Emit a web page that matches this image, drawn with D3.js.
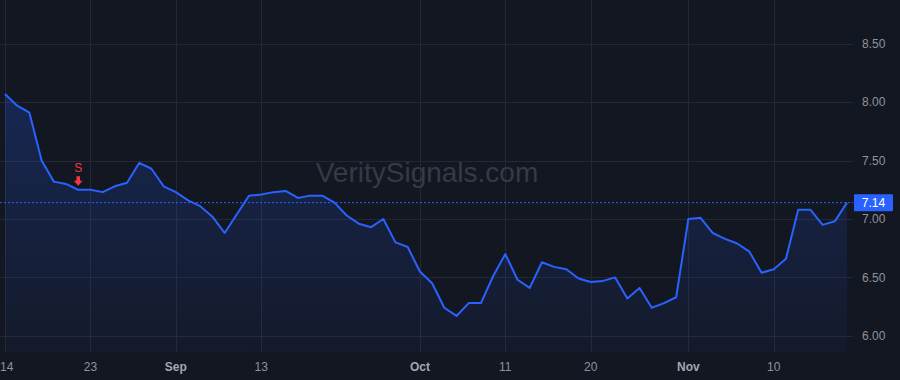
<!DOCTYPE html>
<html>
<head>
<meta charset="utf-8">
<script src="https://cdn.jsdelivr.net/npm/d3@7"></script>
<style>
  html, body { margin: 0; padding: 0; background: #131722; }
  svg { display: block; }
</style>
</head>
<body>
<svg width="900" height="380"></svg>
<script>
// trading days, Aug 14 - Nov 20 2023
var dates = [
  "2023-08-14","2023-08-15","2023-08-16","2023-08-17","2023-08-18","2023-08-21","2023-08-22","2023-08-23","2023-08-24","2023-08-25",
  "2023-08-28","2023-08-29","2023-08-30","2023-08-31","2023-09-01","2023-09-05","2023-09-06","2023-09-07","2023-09-08","2023-09-11",
  "2023-09-12","2023-09-13","2023-09-14","2023-09-15","2023-09-18","2023-09-19","2023-09-20","2023-09-21","2023-09-22","2023-09-25",
  "2023-09-26","2023-09-27","2023-09-28","2023-09-29","2023-10-02","2023-10-03","2023-10-04","2023-10-05","2023-10-06","2023-10-09",
  "2023-10-10","2023-10-11","2023-10-12","2023-10-13","2023-10-16","2023-10-17","2023-10-18","2023-10-19","2023-10-20","2023-10-23",
  "2023-10-24","2023-10-25","2023-10-26","2023-10-27","2023-10-30","2023-10-31","2023-11-01","2023-11-02","2023-11-03","2023-11-06",
  "2023-11-07","2023-11-08","2023-11-09","2023-11-10","2023-11-13","2023-11-14","2023-11-15","2023-11-16","2023-11-17","2023-11-20"
];

var prices = [
  8.07, 7.97, 7.91, 7.50, 7.32, 7.30, 7.25, 7.25, 7.23, 7.28,
  7.31, 7.48, 7.43, 7.28, 7.23, 7.16, 7.11, 7.02, 6.88, 7.04,
  7.20, 7.21, 7.23, 7.24, 7.18, 7.20, 7.20, 7.14, 7.03, 6.96,
  6.93, 7.00, 6.80, 6.76, 6.55, 6.45, 6.24, 6.17, 6.28, 6.28,
  6.51, 6.70, 6.48, 6.41, 6.63, 6.59, 6.57, 6.49, 6.46, 6.47,
  6.50, 6.32, 6.41, 6.24, 6.28, 6.33, 7.00, 7.01, 6.88, 6.83,
  6.79, 6.72, 6.54, 6.57, 6.66, 7.08, 7.08, 6.95, 6.98, 7.14
];

var xTickDates = ["2023-08-14","2023-08-23","2023-09-01","2023-09-13","2023-10-02","2023-10-11","2023-10-20","2023-11-01","2023-11-10"];
var xTickLabels = ["14","23","Sep","13","Oct","11","20","Nov","10"];
var monthTicks = ["Sep","Oct","Nov"];

var yTicks = [6.0, 6.5, 7.0, 7.5, 8.0, 8.5];

var signalDate = "2023-08-22";
var signalLabel = "S";
var lastPrice = 7.14;
var watermark = "VeritySignals.com";

var data = dates.map(function (d, i) {
  return { date: d, value: prices[i] };
});

var svg = d3.select("svg"),
  plotRight = 853,
  plotBottom = 352;

var font = "'Liberation Sans', Arial, sans-serif";

var xScale = d3.scalePoint().domain(dates).range([5, 847]);
var yScale = d3.scaleLinear().domain([6, 8.5]).range([335.8, 43.8]);

// grid
var grid = svg.append("g");
grid.selectAll("line.h")
  .data(yTicks)
  .enter()
  .append("line")
  .attr("x1", 0)
  .attr("x2", plotRight)
  .attr("y1", function (d) { return Math.round(yScale(d)) + 0.5; })
  .attr("y2", function (d) { return Math.round(yScale(d)) + 0.5; })
  .attr("stroke", "#242833");
grid.selectAll("line.v")
  .data(xTickDates)
  .enter()
  .append("line")
  .attr("x1", function (d) { return Math.round(xScale(d)) + 0.5; })
  .attr("x2", function (d) { return Math.round(xScale(d)) + 0.5; })
  .attr("y1", 0)
  .attr("y2", plotBottom)
  .attr("stroke", "#242833");

// watermark
svg.append("text")
  .attr("x", 427)
  .attr("y", 182)
  .attr("text-anchor", "middle")
  .attr("font-family", font)
  .attr("font-size", 28)
  .attr("fill", "#363a45")
  .text(watermark);

// area fill
var defs = svg.append("defs");
var grad = defs.append("linearGradient")
  .attr("id", "areaFill")
  .attr("x1", 0).attr("y1", 0).attr("x2", 0).attr("y2", 1);
grad.append("stop").attr("offset", "0%").attr("stop-color", "#2962ff").attr("stop-opacity", 0.22);
grad.append("stop").attr("offset", "100%").attr("stop-color", "#2962ff").attr("stop-opacity", 0.04);

var areaGenerator = d3.area()
  .x(function (d) { return xScale(d.date); })
  .y0(plotBottom)
  .y1(function (d) { return yScale(d.value); });

svg.append("path")
  .datum(data)
  .attr("fill", "url(#areaFill)")
  .attr("d", areaGenerator);

// last price dashed line
svg.append("line")
  .attr("x1", 0)
  .attr("x2", plotRight)
  .attr("y1", yScale(lastPrice))
  .attr("y2", yScale(lastPrice))
  .attr("stroke", "#2962ff")
  .attr("stroke-width", 1)
  .attr("stroke-dasharray", "2,2");

// price line
var lineGenerator = d3.line()
  .x(function (d) { return xScale(d.date); })
  .y(function (d) { return yScale(d.value); });

svg.append("path")
  .datum(data)
  .attr("fill", "none")
  .attr("stroke", "#2962ff")
  .attr("stroke-width", 2)
  .attr("stroke-linejoin", "round")
  .attr("d", lineGenerator);

// sell signal marker
var sx = xScale(signalDate);
var sy = yScale(prices[dates.indexOf(signalDate)]);
svg.append("path")
  .attr("d", "M" + (sx - 1.8) + "," + (sy - 13.5) +
    "h3.6v4.5h2.6l-4.4,5l-4.4,-5h2.6z")
  .attr("fill", "#f23645");
svg.append("text")
  .attr("x", sx)
  .attr("y", sy - 18)
  .attr("text-anchor", "middle")
  .attr("font-family", font)
  .attr("font-size", 12)
  .attr("fill", "#f23645")
  .text(signalLabel);

// right axis labels
svg.append("g")
  .selectAll("text")
  .data(yTicks)
  .enter()
  .append("text")
  .attr("x", 862)
  .attr("y", function (d) { return yScale(d); })
  .attr("dy", "0.35em")
  .attr("font-family", font)
  .attr("font-size", 12)
  .attr("fill", "#8f929b")
  .text(function (d) { return d3.format(".2f")(d); });

// last price tag
var ly = yScale(lastPrice);
svg.append("rect")
  .attr("x", 854)
  .attr("y", ly - 8.5)
  .attr("width", 39)
  .attr("height", 17)
  .attr("rx", 1)
  .attr("fill", "#2962ff");
svg.append("text")
  .attr("x", 873.5)
  .attr("y", ly)
  .attr("dy", "0.35em")
  .attr("text-anchor", "middle")
  .attr("font-family", font)
  .attr("font-size", 12)
  .attr("fill", "#ffffff")
  .text(d3.format(".2f")(lastPrice));

// bottom axis labels (first one pinned to left edge)
svg.append("g")
  .selectAll("text")
  .data(xTickDates)
  .enter()
  .append("text")
  .attr("x", function (d, i) { return i === 0 ? 0 : xScale(d); })
  .attr("y", 367)
  .attr("dy", "0.35em")
  .attr("text-anchor", function (d, i) { return i === 0 ? "start" : "middle"; })
  .attr("font-family", font)
  .attr("font-size", 12)
  .attr("font-weight", function (d, i) { return monthTicks.indexOf(xTickLabels[i]) >= 0 ? "bold" : "normal"; })
  .attr("fill", function (d, i) { return monthTicks.indexOf(xTickLabels[i]) >= 0 ? "#a3a6af" : "#8f929b"; })
  .text(function (d, i) { return xTickLabels[i]; });
</script>
</body>
</html>
